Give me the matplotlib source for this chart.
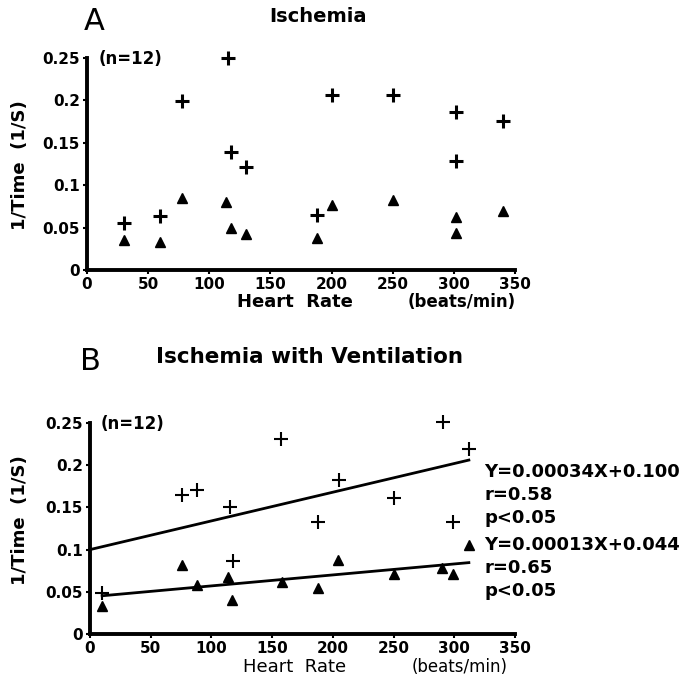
import numpy as np
import matplotlib
matplotlib.use("Agg")
from matplotlib import pyplot as plt

# Panel A - Ischemia
a_plus_x = [30, 60, 78, 115, 118, 130, 188, 200, 250, 302, 302, 340]
a_plus_y = [0.055, 0.064, 0.199, 0.250, 0.139, 0.122, 0.065, 0.206, 0.206, 0.186, 0.129, 0.176]
a_tri_x = [30, 60, 78, 114, 118, 130, 188, 200, 250, 302, 302, 340]
a_tri_y = [0.035, 0.033, 0.085, 0.080, 0.049, 0.043, 0.038, 0.077, 0.083, 0.062, 0.044, 0.069]

# Panel B - Ischemia with Ventilation
b_plus_x = [10, 76, 88, 115, 118, 157, 188, 205, 250, 291, 299, 312]
b_plus_y = [0.048, 0.165, 0.171, 0.150, 0.086, 0.231, 0.133, 0.182, 0.161, 0.251, 0.133, 0.219]
b_tri_x = [10, 76, 88, 114, 117, 158, 188, 204, 250, 290, 299, 312]
b_tri_y = [0.033, 0.082, 0.058, 0.067, 0.040, 0.062, 0.055, 0.088, 0.071, 0.078, 0.071, 0.105]

# regression lines (slope, intercept, x from, x to)
fit_plus = (0.00034, 0.100, 0, 312)
fit_tri = (0.00013, 0.044, 10, 312)

x_ticks = [0, 50, 100, 150, 200, 250, 300, 350]
y_ticks = [0, 0.05, 0.1, 0.15, 0.2, 0.25]
y_ticklabels = ["0", "0.05", "0.1", "0.15", "0.2", "0.25"]

W, H = 684, 683
fig = plt.figure(figsize=(W / 100, H / 100), dpi=100)
plt.rcParams['font.family'] = ['DejaVu Sans']


def px(x, y):
    return x / W, 1 - y / H


def setup(ax):
    ax.set_xlim(0, 350)
    ax.set_ylim(0, 0.25)
    ax.set_xticks(x_ticks)
    ax.set_yticks(y_ticks)
    ax.set_yticklabels(y_ticklabels)
    for s in ("top", "right"):
        ax.spines[s].set_visible(False)
    for s in ("left", "bottom"):
        ax.spines[s].set_linewidth(2.8)
    ax.tick_params(length=3, width=1.5, labelsize=11, pad=2)
    for lab in ax.get_xticklabels() + ax.get_yticklabels():
        lab.set_fontweight("bold")


# ---- Panel A
axA = fig.add_axes([87 / W, 1 - 270 / H, 428 / W, 212 / H])
setup(axA)
axA.plot(a_plus_x, a_plus_y, ls="none", marker="+", ms=10, mew=2.2, color="black", clip_on=False)
axA.plot(a_tri_x, a_tri_y, ls="none", marker="^", ms=7, color="black", clip_on=False)

fig.text(*px(84, 21), "A", fontsize=22, ha="left", va="center")
fig.text(*px(318, 17), "Ischemia", fontsize=14, fontweight="bold", ha="center", va="center")
fig.text(*px(99, 59), "(n=12)", fontsize=12, fontweight="bold", ha="left", va="center")
fig.text(*px(20, 165), "1/Time  (1/S)", fontsize=13, fontweight="bold", rotation=90,
         ha="center", va="center")
fig.text(*px(295, 302), "Heart  Rate", fontsize=13, fontweight="bold", ha="center", va="center")
fig.text(*px(462, 302), "(beats/min)", fontsize=12, fontweight="bold", ha="center", va="center")

# ---- Panel B
axB = fig.add_axes([90 / W, 1 - 634 / H, 425 / W, 211 / H])
setup(axB)
axB.plot(b_plus_x, b_plus_y, ls="none", marker="+", ms=10, mew=1.5, color="black", clip_on=False)
axB.plot(b_tri_x, b_tri_y, ls="none", marker="^", ms=7, color="black", clip_on=False)
for slope, icpt, x0, x1 in (fit_plus, fit_tri):
    xs = np.array([x0, x1])
    axB.plot(xs, slope * xs + icpt, color="black", lw=2, clip_on=False)

fig.text(*px(80, 361), "B", fontsize=22, ha="left", va="center")
fig.text(*px(309, 357), "Ischemia with Ventilation", fontsize=15.5, fontweight="bold",
         ha="center", va="center")
fig.text(*px(101, 424), "(n=12)", fontsize=12, fontweight="bold", ha="left", va="center")
fig.text(*px(20, 520), "1/Time  (1/S)", fontsize=13, fontweight="bold", rotation=90,
         ha="center", va="center")
fig.text(*px(295, 667), "Heart  Rate", fontsize=13, ha="center", va="center")
fig.text(*px(460, 667), "(beats/min)", fontsize=12, ha="center", va="center")

ann = [("Y=0.00034X+0.100", 472), ("r=0.58", 495), ("p<0.05", 518),
       ("Y=0.00013X+0.044", 545), ("r=0.65", 568), ("p<0.05", 591)]
for txt, yy in ann:
    fig.text(*px(484, yy), txt, fontsize=13, fontweight="bold", ha="left", va="center")

fig.savefig("out.png", dpi=100)
